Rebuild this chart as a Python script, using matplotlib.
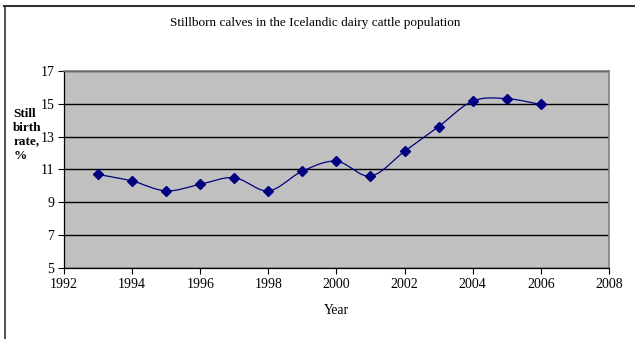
import numpy as np
import matplotlib.pyplot as plt
from matplotlib.lines import Line2D

plt.rcParams['font.family'] = ['Liberation Serif', 'DejaVu Serif']
plt.rcParams['font.size'] = 9.5

years = [1993, 1994, 1995, 1996, 1997, 1998, 1999, 2000,
         2001, 2002, 2003, 2004, 2005, 2006]
stillbirth = [10.7, 10.3, 9.7, 10.1, 10.5, 9.7, 10.9, 11.5,
              10.6, 12.1, 13.6, 15.15, 15.3, 14.95]


def smooth_curve(x, y, n=30):
    # Catmull-Rom through the points, like Excel's smoothed line
    x = np.asarray(x, float)
    y = np.asarray(y, float)
    px = np.concatenate([[2 * x[0] - x[1]], x, [2 * x[-1] - x[-2]]])
    py = np.concatenate([[2 * y[0] - y[1]], y, [2 * y[-1] - y[-2]]])
    xs, ys = [], []
    t = np.linspace(0, 1, n)
    for i in range(1, len(px) - 2):
        for p, out in ((px, xs), (py, ys)):
            p0, p1, p2, p3 = p[i - 1], p[i], p[i + 1], p[i + 2]
            out.extend(0.5 * (2 * p1 + (-p0 + p2) * t
                              + (2 * p0 - 5 * p1 + 4 * p2 - p3) * t**2
                              + (-p0 + 3 * p1 - 3 * p2 + p3) * t**3))
    return xs, ys


fig = plt.figure(figsize=(6.35, 3.39), dpi=100)
ax = fig.add_axes([0.1008, 0.2086, 0.858, 0.583])
ax.set_facecolor('#c0c0c0')

sx, sy = smooth_curve(years, stillbirth)
ax.plot(sx, sy, color='#000080', linewidth=0.9, zorder=3)
ax.plot(years, stillbirth, linestyle='none', marker='D', markersize=5,
        color='#000080', zorder=4)

ax.set_xlim(1992, 2008)
ax.set_ylim(5, 17)
ax.set_xticks(range(1992, 2009, 2))
ax.set_yticks(range(5, 18, 2))
ax.yaxis.grid(True, color='black', linewidth=1)
ax.set_axisbelow(True)
ax.tick_params(direction='out', length=4, width=0.8, colors='black',
               labelsize=10, pad=3)

for side in ('top', 'right'):
    ax.spines[side].set_color('#808080')
    ax.spines[side].set_linewidth(1.2)
for side in ('left', 'bottom'):
    ax.spines[side].set_color('black')
    ax.spines[side].set_linewidth(0.9)

fig.text(0.496, 0.932, 'Stillborn calves in the Icelandic dairy cattle population',
         ha='center', va='center', fontsize=9.5)
ax.set_xlabel('Year', fontsize=9.8, labelpad=9)
fig.text(0.021, 0.602, 'Still\nbirth\nrate,\n%', ha='left', va='center',
         fontsize=9.5, fontweight='bold', linespacing=1.2)

# outer frame
fig.add_artist(Line2D([0.006, 1.0], [0.981, 0.981], color='#333333', linewidth=1.5))
fig.add_artist(Line2D([0.008, 0.008], [0.0, 0.981], color='#333333', linewidth=1.2))

fig.savefig('out.png', dpi=100)
